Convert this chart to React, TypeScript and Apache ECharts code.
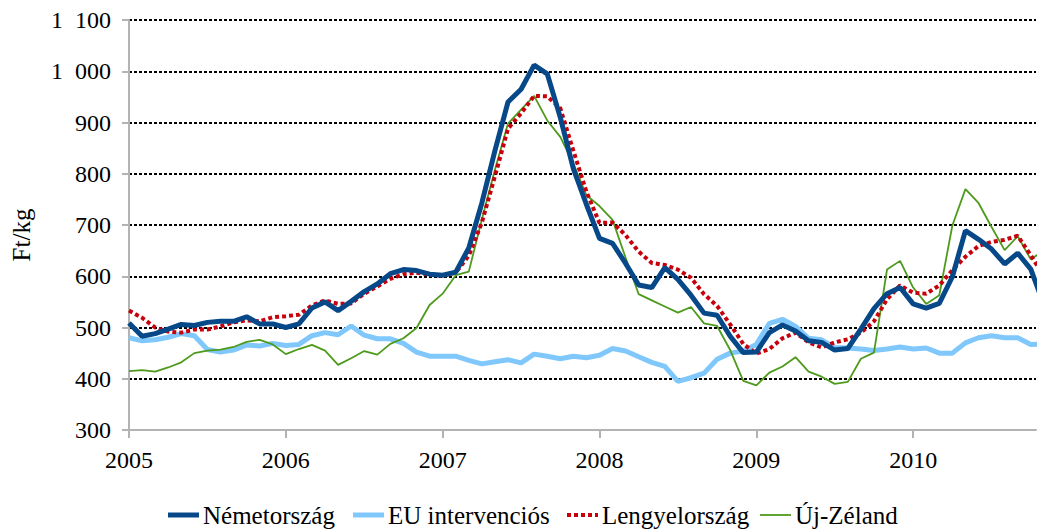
import React, { useEffect, useRef } from "react";
import * as echarts from "echarts";

const startYear = 2005;
const yearTicks = ["2005", "2006", "2007", "2008", "2009", "2010"];

const nemetorszag = [509, 483, 488, 497, 506, 504, 510, 512, 512, 521, 507, 507, 500, 507, 538, 550, 533, 551, 570, 585, 605, 613, 611, 604, 602, 608, 655, 743, 845, 940, 965, 1012, 995, 910, 810, 740, 674, 664, 625, 583, 578, 617, 594, 563, 528, 524, 483, 451, 452, 490, 505, 493, 474, 471, 456, 459, 497, 537, 566, 578, 546, 538, 547, 599, 689, 672, 653, 624, 645, 614, 545];
const euIntervencios = [480, 474, 476, 481, 488, 484, 457, 452, 456, 466, 464, 469, 465, 467, 484, 490, 486, 503, 485, 478, 478, 469, 452, 444, 444, 444, 436, 429, 433, 437, 431, 448, 444, 439, 444, 441, 446, 459, 454, 443, 432, 424, 395, 402, 411, 438, 450, 454, 467, 508, 516, 502, 479, 476, 461, 460, 458, 455, 458, 462, 458, 460, 450, 450, 470, 480, 484, 480, 480, 467, 468];
const lengyelorszag = [533, 519, 500, 492, 490, 496, 496, 502, 510, 514, 512, 520, 522, 525, 543, 553, 546, 547, 566, 580, 595, 604, 607, 603, 601, 607, 640, 705, 795, 888, 918, 952, 951, 928, 845, 765, 704, 705, 680, 648, 626, 622, 613, 597, 565, 542, 506, 468, 449, 458, 479, 490, 471, 461, 471, 477, 490, 512, 555, 582, 568, 566, 582, 612, 638, 659, 667, 671, 679, 641, 600];
const ujZeland = [415, 417, 414, 422, 432, 450, 455, 457, 462, 472, 476, 467, 448, 458, 466, 455, 427, 440, 454, 447, 468, 479, 499, 544, 566, 602, 609, 711, 808, 898, 925, 952, 904, 872, 820, 758, 737, 710, 636, 565, 553, 541, 529, 540, 508, 503, 456, 396, 387, 412, 424, 442, 414, 404, 390, 394, 439, 451, 613, 630, 578, 546, 563, 699, 770, 743, 696, 651, 678, 633, 650];

const seriesNames = ["Németország", "EU intervenciós", "Lengyelország", "Új-Zéland"];
const seriesColors = ["#064888", "#80c8fc", "#c8000c", "#4e9a1c"];
const seriesWidths = [5, 5, 4, 1.8];
const seriesDashes: (number[] | null)[] = [null, null, [4, 3], null];

const toPairs = (vals: number[]) => vals.map((v, i) => [i, v]);

const FONT = "Liberation Serif";
const FS = 24;

const legendX = [168, 353, 567, 760];

export default function App() {
  const ref = useRef<HTMLDivElement>(null);
  useEffect(() => {
    if (!ref.current) return;
    const chart = echarts.init(ref.current, undefined, { renderer: "svg" });
    const legendY = 515;
    const legendGraphics: any[] = [];
    seriesNames.forEach((name, k) => {
      const x0 = legendX[k];
      legendGraphics.push({
        type: "line",
        shape: { x1: x0, y1: legendY, x2: x0 + 31, y2: legendY },
        style: {
          stroke: seriesColors[k],
          lineWidth: seriesWidths[k],
          lineDash: seriesDashes[k] || undefined,
        },
      });
      legendGraphics.push({
        type: "text",
        x: x0 + 35,
        y: legendY,
        style: {
          text: name,
          font: `${FS + 1}px ${FONT}`,
          fill: "#000",
          verticalAlign: "middle",
        },
      });
    });
    chart.setOption({
      animation: false,
      backgroundColor: "#ffffff",
      textStyle: { fontFamily: FONT },
      grid: { left: 129, top: 20, right: 1, bottom: 99, containLabel: false },
      graphic: legendGraphics,
      xAxis: {
        type: "value",
        min: 0,
        max: 69.4,
        interval: 12,
        axisLine: { show: true, lineStyle: { color: "#b3b3b3", width: 2 } },
        axisTick: { show: true, length: 8, lineStyle: { color: "#b3b3b3", width: 2 } },
        splitLine: { show: false },
        axisLabel: {
          margin: 18,
          fontFamily: FONT,
          fontSize: FS,
          color: "#000",
          showMaxLabel: false,
          formatter: (v: number) => yearTicks[Math.round(v / 12)] ?? String(startYear + v / 12),
        },
      },
      yAxis: {
        type: "value",
        min: 300,
        max: 1100,
        interval: 100,
        name: "Ft/kg",
        nameLocation: "middle",
        nameGap: 95,
        nameTextStyle: { fontFamily: FONT, fontSize: 25, color: "#000", padding: [0, 20, 0, 0] },
        axisLine: { show: true, lineStyle: { color: "#b3b3b3", width: 2 } },
        axisTick: { show: true, length: 7, lineStyle: { color: "#b3b3b3", width: 2 } },
        splitLine: { show: true, lineStyle: { color: "#000", width: 2, type: [3, 2] } },
        axisLabel: {
          margin: 18,
          fontFamily: FONT,
          fontSize: FS,
          color: "#000",
          formatter: (v: number) =>
            v >= 1000 ? `${Math.floor(v / 1000)}\u2007${String(v % 1000).padStart(3, "0")}` : String(v),
        },
      },
      series: [
        {
          name: "EU intervenciós",
          type: "line",
          data: toPairs(euIntervencios),
          symbol: "none",
          z: 2,
          lineStyle: { color: seriesColors[1], width: seriesWidths[1] },
        },
        {
          name: "Új-Zéland",
          type: "line",
          data: toPairs(ujZeland),
          symbol: "none",
          z: 3,
          lineStyle: { color: seriesColors[3], width: seriesWidths[3] },
        },
        {
          name: "Lengyelország",
          type: "line",
          data: toPairs(lengyelorszag),
          symbol: "none",
          z: 4,
          lineStyle: { color: seriesColors[2], width: seriesWidths[2], type: [4, 3] },
        },
        {
          name: "Németország",
          type: "line",
          data: toPairs(nemetorszag),
          symbol: "none",
          z: 5,
          lineStyle: { color: seriesColors[0], width: seriesWidths[0] },
        },
      ],
    });
    return () => chart.dispose();
  }, []);
  return (
    <div
      ref={ref}
      style={{ position: "absolute", left: 0, top: 0, width: 1037, height: 529 }}
    />
  );
}
